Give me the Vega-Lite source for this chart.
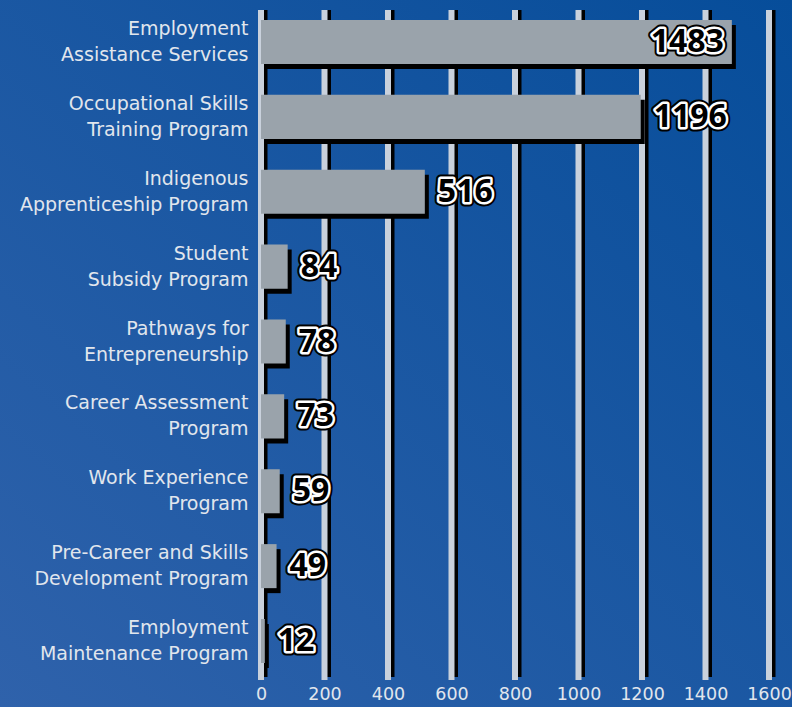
{
  "$schema": "https://vega.github.io/schema/vega-lite/v6.json",
  "width": 792,
  "height": 707,
  "autosize": "none",
  "padding": 0,
  "background": "#1a58a2",
  "config": {
    "view": {
      "stroke": null,
      "fill": {"gradient": "linear", "x1": 1, "y1": 0, "x2": 0, "y2": 1,
        "stops": [{"offset": 0, "color": "#064d9a"}, {"offset": 1, "color": "#2f62ab"}]}
    }
  },
  "datasets": {
    "programs": [
      {"program": "Employment|Assistance Services", "n": 1483},
      {"program": "Occupational Skills|Training Program", "n": 1196},
      {"program": "Indigenous|Apprenticeship Program", "n": 516},
      {"program": "Student|Subsidy Program", "n": 84},
      {"program": "Pathways for|Entrepreneurship", "n": 78},
      {"program": "Career Assessment|Program", "n": 73},
      {"program": "Work Experience|Program", "n": 59},
      {"program": "Pre-Career and Skills|Development Program", "n": 49},
      {"program": "Employment|Maintenance Program", "n": 12}
    ],
    "grid": [
      {"v": 0}, {"v": 200}, {"v": 400}, {"v": 600}, {"v": 800},
      {"v": 1000}, {"v": 1200}, {"v": 1400}, {"v": 1600}
    ]
  },
  "resolve": {"scale": {"y": "independent"}, "axis": {"y": "independent"}},
  "layer": [
    {
      "data": {"name": "grid"},
      "layer": [
        {
          "mark": {"type": "rule", "color": "#000000", "strokeWidth": 6, "xOffset": 3.5, "yOffset": -3},
          "encoding": {
            "x": {"field": "v", "type": "quantitative", "title": null,
              "scale": {"domain": [0, 1600], "range": [261, 769], "nice": false, "zero": true},
              "axis": {"orient": "bottom", "offset": -22, "values": [0, 200, 400, 600, 800, 1000, 1200, 1400, 1600],
                "format": "d", "domain": false, "ticks": false, "grid": false, "labelPadding": 0, "labelFlush": false, "labelOverlap": false,
                "labelFont": "DejaVu Sans", "labelFontSize": 17.5, "labelColor": "#e1e6ed", "title": null}},
            "y": {"datum": 0, "type": "quantitative", "scale": {"domain": [0, 1], "range": [680, 10]}, "axis": null},
            "y2": {"datum": 1}
          }
        },
        {
          "mark": {"type": "rule", "color": "#c9d1dc", "strokeWidth": 6},
          "encoding": {
            "x": {"field": "v", "type": "quantitative", "title": null},
            "y": {"datum": 0, "type": "quantitative", "axis": null},
            "y2": {"datum": 1}
          }
        }
      ]
    },
    {
      "data": {"name": "programs"},
      "encoding": {
        "y": {"field": "program", "type": "nominal", "sort": null, "title": null,
          "scale": {"range": [5, 678], "paddingInner": 0.412, "paddingOuter": 0.2},
          "axis": {"orient": "left", "offset": -248, "domain": false, "ticks": false, "grid": false,
            "labelPadding": 0, "labelOffset": -13, "labelExpr": "split(datum.label, '|')", "labelFont": "DejaVu Sans",
            "labelFontSize": 19, "labelColor": "#e1e6ed", "labelLineHeight": 26, "labelLimit": 0,
            "labelBaseline": "middle", "title": null}},
        "x": {"field": "n", "type": "quantitative", "title": null}
      },
      "layer": [
        {"mark": {"type": "bar", "color": "#000000", "xOffset": 4, "yOffset": 5}},
        {"mark": {"type": "bar", "color": "#9aa3ab"}},
        {
          "transform": [{"filter": "datum.n > 1400"}],
          "encoding": {"text": {"field": "n", "type": "quantitative"}},
          "layer": [
            {"mark": {"type": "text", "align": "right", "dx": -8, "baseline": "middle", "font": "Open Sans", "fontWeight": "bold", "fontSize": 32, "fill": "#000000", "stroke": "#000000", "strokeWidth": 9, "strokeJoin": "round"}},
            {"mark": {"type": "text", "align": "right", "dx": -8, "baseline": "middle", "font": "Open Sans", "fontWeight": "bold", "fontSize": 32, "fill": "#000000", "stroke": "#ffffff", "strokeWidth": 5, "strokeJoin": "round"}},
            {"mark": {"type": "text", "align": "right", "dx": -8, "baseline": "middle", "font": "Open Sans", "fontWeight": "bold", "fontSize": 32, "fill": "#000000"}}
          ]
        },
        {
          "transform": [{"filter": "datum.n <= 1400"}],
          "encoding": {"text": {"field": "n", "type": "quantitative"}},
          "layer": [
            {"mark": {"type": "text", "align": "left", "dx": 13, "baseline": "middle", "font": "Open Sans", "fontWeight": "bold", "fontSize": 32, "fill": "#000000", "stroke": "#000000", "strokeWidth": 9, "strokeJoin": "round"}},
            {"mark": {"type": "text", "align": "left", "dx": 13, "baseline": "middle", "font": "Open Sans", "fontWeight": "bold", "fontSize": 32, "fill": "#000000", "stroke": "#ffffff", "strokeWidth": 5, "strokeJoin": "round"}},
            {"mark": {"type": "text", "align": "left", "dx": 13, "baseline": "middle", "font": "Open Sans", "fontWeight": "bold", "fontSize": 32, "fill": "#000000"}}
          ]
        }
      ]
    }
  ]
}
